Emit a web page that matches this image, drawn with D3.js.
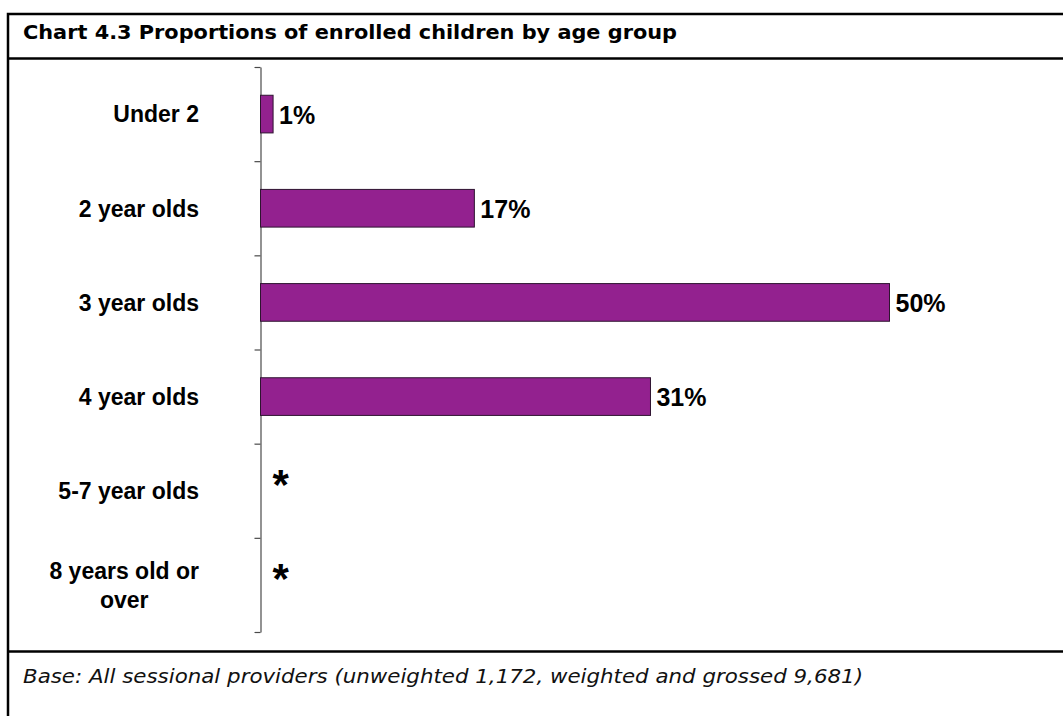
<!DOCTYPE html>
<html>
<head>
<meta charset="utf-8">
<script src="https://cdn.jsdelivr.net/npm/d3@7"></script>
<style>
    body { margin: 0; background: #fff; }
    svg { display: block; }
</style>
</head>
<body>
<svg width="1063" height="716"></svg>
<script>
// chart data
var categories = ["Under 2", "2 year olds", "3 year olds", "4 year olds", "5-7 year olds", "8 years old or over"];
var values = [1, 17, 50, 31, 0, 0];
var valueLabels = ["1%", "17%", "50%", "31%", "*", "*"];
var title = "Chart 4.3 Proportions of enrolled children by age group";
var footnote = "Base: All sessional providers (unweighted 1,172, weighted and grossed 9,681)";

var svg = d3.select("svg");
var labelFont = "'Liberation Sans', Arial, sans-serif";
var boxFont = "'DejaVu Sans', Verdana, sans-serif";

// frame: outer box + title and footer separators
svg.append("rect")
    .attr("x", 8).attr("y", 14)
    .attr("width", 1060).attr("height", 720)
    .attr("fill", "none")
    .attr("stroke", "#000")
    .attr("stroke-width", 2.5);

svg.selectAll("line.sep")
    .data([58.5, 651.5])
    .enter()
    .append("line")
    .attr("class", "sep")
    .attr("x1", 8).attr("x2", 1063)
    .attr("y1", (d)=>{ return d; })
    .attr("y2", (d)=>{ return d; })
    .attr("stroke", "#000")
    .attr("stroke-width", 2.5);

svg.append("text")
    .attr("x", 23).attr("y", 38.5)
    .attr("font-family", boxFont)
    .attr("font-weight", "bold")
    .attr("font-size", "19px")
    .attr("textLength", 654)
    .attr("lengthAdjust", "spacingAndGlyphs")
    .attr("fill", "#000")
    .text(title);

svg.append("text")
    .attr("x", 23).attr("y", 683)
    .attr("font-family", boxFont)
    .attr("font-style", "italic")
    .attr("font-size", "19px")
    .attr("textLength", 840)
    .attr("lengthAdjust", "spacingAndGlyphs")
    .attr("fill", "#111")
    .text(footnote);

// scales
var x = d3.scaleLinear().domain([0, 50]).range([260.5, 889.5]);
var y = d3.scaleBand().domain(categories).range([67, 632]).paddingInner(0.6).paddingOuter(0.3);
var yEdge = d3.scaleLinear().domain([0, categories.length]).range([67, 632]);

// axis with ticks between categories
var axis = svg.append("g")
    .attr("transform", "translate(260.5,0)")
    .call(d3.axisLeft(yEdge).ticks(categories.length).tickSize(6).tickSizeOuter(0).tickFormat(""));
axis.select(".domain").attr("stroke", "#4a4a4a").attr("stroke-width", 1.2);
axis.selectAll(".tick line").attr("stroke", "#4a4a4a").attr("stroke-width", 1.2);

// bars
svg.selectAll("rect.bar")
    .data(values)
    .enter()
    .filter((d)=>{ return d > 0; })
    .append("rect")
    .attr("class", "bar")
    .attr("x", x(0))
    .attr("y", (d)=>{ return y(categories[values.indexOf(d)]); })
    .attr("width", (d)=>{ return x(d) - x(0); })
    .attr("height", y.bandwidth())
    .attr("fill", "#93218f")
    .attr("stroke", "#2e1430")
    .attr("stroke-width", 1);

// value labels
svg.selectAll("text.val")
    .data(valueLabels)
    .enter()
    .append("text")
    .attr("class", "val")
    .attr("x", (d, i)=>{ return d == "*" ? x(values[i]) + 12 : x(values[i]) + 6; })
    .attr("y", (d, i)=>{ return y(categories[i]) + y.bandwidth() / 2; })
    .attr("dy", (d)=>{ return d == "*" ? "0.2em" : "0.38em"; })
    .attr("font-family", labelFont)
    .attr("font-weight", "bold")
    .attr("font-size", (d)=>{ return d == "*" ? "42px" : "25px"; })
    .attr("fill", "#000")
    .text((d)=>{ return d; });

// category labels, wrapped, block right-aligned and lines centred
var cats = svg.selectAll("text.cat")
    .data(categories)
    .enter()
    .append("text")
    .attr("class", "cat")
    .attr("font-family", labelFont)
    .attr("font-weight", "bold")
    .attr("font-size", "23px")
    .attr("fill", "#000")
    .attr("text-anchor", "middle");

cats.each(function(d) {
    var t = d3.select(this);
    var words = d.split(" ");
    var lines = [];
    var line = "";
    var probe = t.append("tspan");
    for (var k = 0; k < words.length; k++) {
        var test = line ? line + " " + words[k] : words[k];
        probe.text(test);
        if (probe.node().getComputedTextLength() > 158 && line) {
            lines.push(line);
            line = words[k];
        } else {
            line = test;
        }
    }
    lines.push(line);
    probe.remove();

    var maxW = 0;
    lines.forEach((l)=>{
        var s = t.append("tspan").text(l);
        maxW = Math.max(maxW, s.node().getComputedTextLength());
        s.remove();
    });

    var cx = 199 - maxW / 2;
    var cy = y(d) + y.bandwidth() / 2;
    var lh = 29;
    lines.forEach((l, j)=>{
        t.append("tspan")
            .attr("x", cx)
            .attr("y", cy + (j - (lines.length - 1) / 2) * lh)
            .attr("dy", "0.36em")
            .text(l);
    });
});
</script>
</body>
</html>
